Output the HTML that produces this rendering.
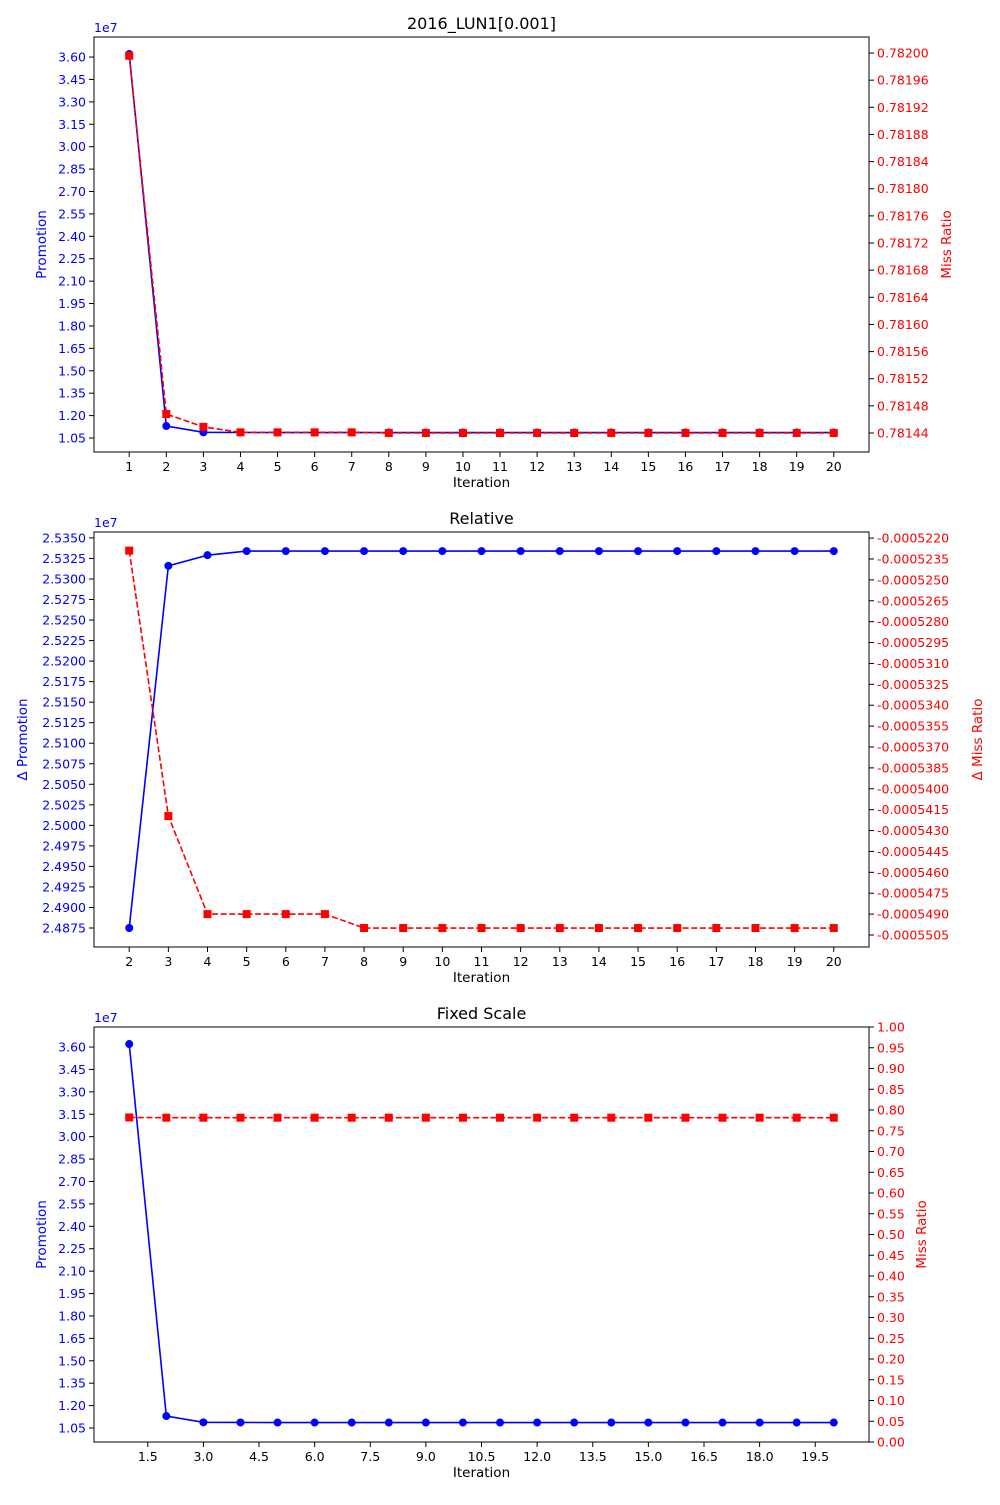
<!DOCTYPE html>
<html><head><meta charset="utf-8"><style>
body{margin:0;background:#fff;}
svg{font-family:"DejaVu Sans","Liberation Sans",sans-serif;}
</style></head><body>
<svg id="c" width="1000" height="1500" xmlns="http://www.w3.org/2000/svg"></svg>
<script>
// ---- data ----
const iterations = [1,2,3,4,5,6,7,8,9,10,11,12,13,14,15,16,17,18,19,20];
const promotion = [3.62,1.13,1.088,1.087,1.0867,1.0867,1.0867,1.0867,1.0867,1.0867,1.0867,1.0867,1.0867,1.0867,1.0867,1.0867,1.0867,1.0867,1.0867,1.0867]; // x1e7
const missRatio = [0.781996,0.781468,0.781449,0.781441,0.781441,0.781441,0.781441,0.78144,0.78144,0.78144,0.78144,0.78144,0.78144,0.78144,0.78144,0.78144,0.78144,0.78144,0.78144,0.78144];
const relIterations = [2,3,4,5,6,7,8,9,10,11,12,13,14,15,16,17,18,19,20];
const deltaPromotion = [2.4875,2.5316,2.5329,2.5334,2.5334,2.5334,2.5334,2.5334,2.5334,2.5334,2.5334,2.5334,2.5334,2.5334,2.5334,2.5334,2.5334,2.5334,2.5334]; // x1e7
const deltaMiss = [-0.0005229,-0.00054196,-0.000549,-0.000549,-0.000549,-0.000549,-0.00055,-0.00055,-0.00055,-0.00055,-0.00055,-0.00055,-0.00055,-0.00055,-0.00055,-0.00055,-0.00055,-0.00055,-0.00055];
const promoTicks = ["1.05","1.20","1.35","1.50","1.65","1.80","1.95","2.10","2.25","2.40","2.55","2.70","2.85","3.00","3.15","3.30","3.45","3.60"];
const missTicks1 = ["0.78144","0.78148","0.78152","0.78156","0.78160","0.78164","0.78168","0.78172","0.78176","0.78180","0.78184","0.78188","0.78192","0.78196","0.78200"];
const dPromoTicks = ["2.4875","2.4900","2.4925","2.4950","2.4975","2.5000","2.5025","2.5050","2.5075","2.5100","2.5125","2.5150","2.5175","2.5200","2.5225","2.5250","2.5275","2.5300","2.5325","2.5350"];
const dMissTicks = ["-0.0005505","-0.0005490","-0.0005475","-0.0005460","-0.0005445","-0.0005430","-0.0005415","-0.0005400","-0.0005385","-0.0005370","-0.0005355","-0.0005340","-0.0005325","-0.0005310","-0.0005295","-0.0005280","-0.0005265","-0.0005250","-0.0005235","-0.0005220"];
const fixedMissTicks = ["0.00","0.05","0.10","0.15","0.20","0.25","0.30","0.35","0.40","0.45","0.50","0.55","0.60","0.65","0.70","0.75","0.80","0.85","0.90","0.95","1.00"];
const xTicksInt = ["1","2","3","4","5","6","7","8","9","10","11","12","13","14","15","16","17","18","19","20"];
const xTicksRel = ["2","3","4","5","6","7","8","9","10","11","12","13","14","15","16","17","18","19","20"];
const xTicksFixed = ["1.5","3.0","4.5","6.0","7.5","9.0","10.5","12.0","13.5","15.0","16.5","18.0","19.5"];

const svg = document.getElementById('c');
const NS = 'http://www.w3.org/2000/svg';
function mk(tag, attrs, parent){const e=document.createElementNS(NS,tag);for(const k in attrs)e.setAttribute(k,attrs[k]);(parent||svg).appendChild(e);return e;}
function lin(d0,d1,r0,r1){return v=>r0+(v-d0)/(d1-d0)*(r1-r0);}

function plot(o){
  const g=mk('g',{});
  
  
  const L=94,R=869,T=o.top,B=o.top+415;
  const x=lin(o.xd[0],o.xd[1],L,R), yl=lin(o.yl[0],o.yl[1],B,T), yr=lin(o.yr[0],o.yr[1],B,T);
  // title
  const t=mk('text',{x:(L+R)/2,y:T-8,'text-anchor':'middle','font-size':16,fill:'#000'},g);t.textContent=o.title;
  
  // x ticks
  o.xt.forEach(s=>{const v=parseFloat(s),px=x(v);
    mk('line',{x1:px,x2:px,y1:B,y2:B+5,stroke:'#000'},g);
    const tx=mk('text',{x:px,y:B+19,'text-anchor':'middle','font-size':12.5},g);tx.textContent=s;
    });
  const xl=mk('text',{x:(L+R)/2,y:B+35,'text-anchor':'middle','font-size':13.5},g);xl.textContent='Iteration';
  
  // left ticks
  o.ylt.forEach(s=>{const py=yl(parseFloat(s));
    mk('line',{x1:L-5,x2:L,y1:py,y2:py,stroke:'#000'},g);
    const tx=mk('text',{x:L-8,y:py+4.5,'text-anchor':'end','font-size':12.5,fill:'blue'},g);tx.textContent=s;
    });
  const ex=mk('text',{x:L,y:T-5,'font-size':12.5,fill:'blue'},g);ex.textContent='1e7';
  
  // right ticks
  o.yrt.forEach(s=>{const py=yr(parseFloat(s));
    mk('line',{x1:R,x2:R+5,y1:py,y2:py,stroke:'#000'},g);
    const tx=mk('text',{x:R+8,y:py+4.5,'font-size':12.5,fill:'red'},g);tx.textContent=s;
    });
  const yla=mk('text',{x:0,y:0,'text-anchor':'middle','font-size':13.5,fill:'blue',transform:`translate(${o.ylx},${(T+B)/2}) rotate(-90)`},g);yla.textContent=o.yln;
  
  const yra=mk('text',{x:0,y:0,'text-anchor':'middle','font-size':13.5,fill:'red',transform:`translate(${o.yrx},${(T+B)/2}) rotate(-90)`},g);yra.textContent=o.yrn;
  
  // blue series
  const bp=o.xs.map((v,i)=>x(v)+','+yl(o.ls[i])).join(' ');
  const bl=mk('polyline',{points:bp,fill:'none',stroke:'blue','stroke-width':1.6},g);
  
  o.xs.forEach((v,i)=>{const c=mk('circle',{cx:x(v),cy:yl(o.ls[i]),r:4,fill:'blue'},g);
    });
  // red series
  const rp=o.xs.map((v,i)=>x(v)+','+yr(o.rs[i])).join(' ');
  const rl=mk('polyline',{points:rp,fill:'none',stroke:'red','stroke-width':1.6,'stroke-dasharray':'6,2.6'},g);
  
  o.xs.forEach((v,i)=>{const s=mk('rect',{x:x(v)-4,y:yr(o.rs[i])-4,width:8,height:8,fill:'red'},g);
    });
  mk('rect',{x:L,y:T,width:R-L,height:B-T,fill:'none',stroke:'#000','stroke-width':1},g);
}
const XD=[0.05,20.95];
const YL1=[1.05-14/22.41*0.15, 1.05+401/22.41*0.15];
const YR1=[0.78144-19/27.14*0.00004, 0.78144+396/27.14*0.00004];
plot({name:'absolute-plot',top:37,title:'2016_LUN1[0.001]',xd:XD,yl:YL1,yr:YR1,xt:xTicksInt,ylt:promoTicks,yrt:missTicks1,
  xs:iterations,ls:promotion,rs:missRatio,yln:'Promotion',yrn:'Miss Ratio',ylx:46,yrx:951});
plot({name:'relative-plot',top:532,title:'Relative',xd:[1.05,20.95].map((v,i)=>i?20+36/37.05*(19/18)*0+ (20.95-20)*(18/19):2-0.95*(18/19)),
  yl:[2.4875-19/20.53*0.0025, 2.4875+396/20.53*0.0025],yr:[-0.0005505-12/20.89*0.0000015,-0.0005505+403/20.89*0.0000015],
  xt:xTicksRel,ylt:dPromoTicks,yrt:dMissTicks,xs:relIterations,ls:deltaPromotion,rs:deltaMiss,yln:'Δ Promotion',yrn:'Δ Miss Ratio',ylx:27,yrx:982});
plot({name:'fixed-scale-plot',top:1027,title:'Fixed Scale',xd:XD,yl:YL1,yr:[0,1],xt:xTicksFixed,ylt:promoTicks,yrt:fixedMissTicks,
  xs:iterations,ls:promotion,rs:missRatio,yln:'Promotion',yrn:'Miss Ratio',ylx:46,yrx:926});
</script>
</body></html>
